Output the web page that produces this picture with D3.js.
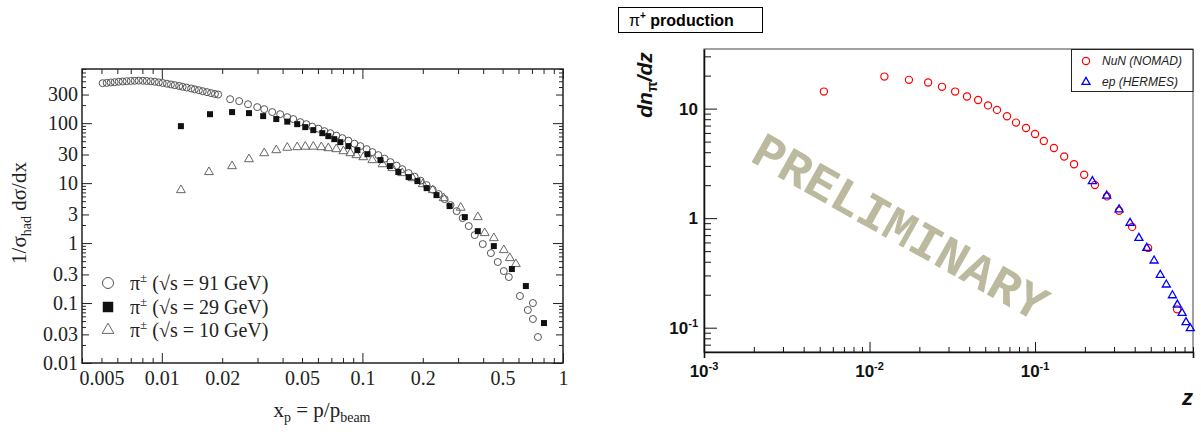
<!DOCTYPE html>
<html>
<head>
<meta charset="utf-8">
<script src="https://d3js.org/d3.v7.min.js"></script>
<style>
  body { margin: 0; background: #fff; }
  svg { display: block; }
</style>
</head>
<body>
<svg id="chart" width="1201" height="434"></svg>
<script>
'use strict';

// ---- left panel: e+e- -> pi+- fragmentation ----
var xpTicks = [0.005, 0.01, 0.02, 0.05, 0.1, 0.2, 0.5, 1];
var xpTickLabels = ['0.005', '0.01', '0.02', '0.05', '0.1', '0.2', '0.5', '1'];
var sigTicks = [300, 100, 30, 10, 3, 1, 0.3, 0.1, 0.03, 0.01];
var sigTickLabels = ['300', '100', '30', '10', '3', '1', '0.3', '0.1', '0.03', '0.01'];
var legendLabels = [' (\u221as = 91 GeV)', ' (\u221as = 29 GeV)', ' (\u221as = 10 GeV)'];

var lep91X = [0.00507, 0.00531, 0.00556, 0.00582, 0.0061, 0.00638, 0.00668, 0.007, 0.00733, 0.00767,
  0.00804, 0.00841, 0.00881, 0.00923, 0.00966, 0.0101, 0.0106, 0.0111, 0.0116, 0.0122,
  0.0127, 0.0133, 0.014, 0.0146, 0.0153, 0.016, 0.0168, 0.0176, 0.0184, 0.0191,
  0.0219, 0.0243, 0.0269, 0.0299, 0.0324, 0.0355, 0.0389, 0.0422, 0.0452,
  0.049, 0.0525, 0.0562, 0.0603, 0.0646, 0.0692, 0.0741, 0.0794, 0.0851, 0.0912,
  0.0977, 0.105, 0.112, 0.12, 0.129, 0.138, 0.148, 0.158, 0.17, 0.182,
  0.195, 0.209, 0.224, 0.24, 0.257, 0.275, 0.295, 0.316, 0.339, 0.363,
  0.398, 0.437, 0.473, 0.507, 0.537, 0.61, 0.668, 0.708, 0.708, 0.75];
var lep91Y = [464, 469, 477, 482, 490, 495, 501, 505, 509, 511,
  509, 505, 498, 490, 479, 468, 455, 442, 430, 417,
  404, 392, 379, 366, 354, 341, 329, 317, 307, 300,
  251, 233, 207, 185, 171, 153, 141, 126, 117,
  104, 96.2, 87.4, 81.0, 73.6, 68.1, 61.9, 56.2, 51.1, 45.5,
  41.4, 36.9, 32.9, 29.3, 25.6, 22.4, 19.6, 17.1, 14.7, 12.8,
  11.0, 9.26, 7.79, 6.56, 5.41, 4.30, 3.41, 2.61, 1.92, 1.36,
  0.962, 0.681, 0.483, 0.341, 0.271, 0.131, 0.0764, 0.1, 0.0541, 0.0271];

var pep29X = [0.01245, 0.01738, 0.0224, 0.0272, 0.032, 0.0372, 0.0422, 0.0473, 0.0519, 0.0569,
  0.0631, 0.0676, 0.0724, 0.0776, 0.0851, 0.0944, 0.106, 0.123, 0.137, 0.151,
  0.17, 0.188, 0.209, 0.234, 0.272, 0.324, 0.376, 0.452, 0.556, 0.653, 0.804];
var pep29Y = [89.1, 141, 153, 147, 131, 117, 106, 96.2, 85.8, 76.5,
  68.1, 60.7, 54.1, 48.2, 41.4, 35.5, 30.4, 24.2, 19.2, 15.3,
  12.6, 10.8, 8.25, 6.31, 4.14, 2.71, 1.58, 0.891, 0.369, 0.192, 0.0464];

var cleo10X = [0.01245, 0.01718, 0.0224, 0.0272, 0.0324, 0.0372, 0.0422, 0.0473, 0.0519, 0.0569,
  0.0624, 0.0676, 0.0741, 0.0804, 0.0871, 0.0933, 0.101, 0.112, 0.126, 0.141,
  0.158, 0.178, 0.2, 0.224, 0.254, 0.309, 0.376, 0.407, 0.452, 0.507, 0.543, 0.582];
var cleo10Y = [7.65, 15.3, 19.2, 25.1, 31.6, 35.5, 39.0, 39.8, 40.6, 40.6,
  39.8, 38.3, 36.9, 34.1, 31.6, 29.3, 27.1, 24.2, 20.7, 17.8,
  14.7, 12.1, 9.62, 7.65, 5.62, 3.90, 2.71, 1.47, 1.21, 0.764, 0.562, 0.447];

// ---- right panel: pi+ production vs z ----
var zTicks = [0.001, 0.01, 0.1];
var zTickExp = ['-3', '-2', '-1'];
var dnTicks = [10, 1, 0.1];
var dnTickBase = ['10', '1', '10'];
var dnTickExp = ['', '', '-1'];
var seriesNames = ['NuN (NOMAD)', 'ep (HERMES)'];

var nomadZ = [0.0053, 0.0123, 0.0173, 0.0226, 0.0274, 0.0329, 0.0388, 0.0453, 0.052, 0.0589,
  0.0677, 0.0767, 0.0882, 0.1, 0.113, 0.130, 0.150, 0.172, 0.198, 0.230,
  0.272, 0.322, 0.386, 0.482, 0.721];
var nomadY = [14.3, 19.6, 18.3, 17.3, 15.8, 14.3, 12.9, 12.0, 10.7, 9.73,
  8.51, 7.45, 6.66, 5.87, 5.07, 4.37, 3.65, 3.10, 2.49, 2.01,
  1.58, 1.17, 0.832, 0.535, 0.147];

var hermesZ = [0.222, 0.271, 0.322, 0.375, 0.424, 0.473, 0.524, 0.571, 0.621, 0.676, 0.724, 0.773, 0.817, 0.867];
var hermesY = [2.17, 1.60, 1.20, 0.904, 0.658, 0.534, 0.409, 0.303, 0.247, 0.197, 0.162, 0.136, 0.112, 0.0986];

var svg = d3.select('#chart');

function isDecade(v) {
  var l = Math.log10(v);
  return Math.abs(l - Math.round(l)) < 1e-6;
}
function leadDigit(v) {
  return Math.round(v / Math.pow(10, Math.floor(Math.log10(v) + 1e-9)));
}
function noDomain(g) { g.select('.domain').remove(); }

// =========== left panel ===========
var L = { left: 82, top: 69, right: 563, bottom: 363 };
var xL = d3.scaleLog().domain([0.004, 1]).range([L.left, L.right]);
var yL = d3.scaleLog().domain([0.01, 800]).range([L.bottom, L.top]);
var serif = '"Liberation Serif", "Times New Roman", serif';

var gl = svg.append('g').attr('color', '#222');

function xLen(d) { return isDecade(d) ? 10 : 5; }
function yLen(d) { return isDecade(d) ? 10 : (leadDigit(d) === 3 ? 7 : 4); }

gl.append('g').attr('transform', 'translate(0,' + L.bottom + ')')
  .call(d3.axisBottom(xL).tickValues(xL.ticks()).tickFormat(''))
  .call(noDomain)
  .selectAll('.tick line').attr('y2', function (d) { return -xLen(d); });
gl.append('g').attr('transform', 'translate(0,' + L.top + ')')
  .call(d3.axisTop(xL).tickValues(xL.ticks()).tickFormat(''))
  .call(noDomain)
  .selectAll('.tick line').attr('y2', function (d) { return xLen(d); });
gl.append('g').attr('transform', 'translate(' + L.left + ',0)')
  .call(d3.axisLeft(yL).tickValues(yL.ticks()).tickFormat(''))
  .call(noDomain)
  .selectAll('.tick line').attr('x2', function (d) { return yLen(d); });
gl.append('g').attr('transform', 'translate(' + L.right + ',0)')
  .call(d3.axisRight(yL).tickValues(yL.ticks()).tickFormat(''))
  .call(noDomain)
  .selectAll('.tick line').attr('x2', function (d) { return -yLen(d); });

gl.append('rect').attr('x', L.left).attr('y', L.top)
  .attr('width', L.right - L.left).attr('height', L.bottom - L.top)
  .attr('fill', 'none').attr('stroke', '#222').attr('stroke-width', 1.5);

// tick labels
gl.append('g').attr('transform', 'translate(0,' + L.bottom + ')')
  .call(d3.axisBottom(xL).tickValues(xpTicks).tickSize(0).tickPadding(8)
    .tickFormat(function (d, i) { return xpTickLabels[i]; }))
  .call(noDomain)
  .attr('font-family', serif).attr('font-size', 20);
gl.append('g').attr('transform', 'translate(' + L.left + ',0)')
  .call(d3.axisLeft(yL).tickValues(sigTicks).tickSize(0).tickPadding(4)
    .tickFormat(function (d, i) { return sigTickLabels[i]; }))
  .call(noDomain)
  .attr('font-family', serif).attr('font-size', 20);

// axis titles
var yt = gl.append('text').attr('transform', 'translate(26,213) rotate(-90)')
  .attr('text-anchor', 'middle').attr('font-family', serif).attr('font-size', 21).attr('fill', '#222');
yt.append('tspan').text('1/\u03c3');
yt.append('tspan').attr('font-size', 14).attr('dy', 5).text('had');
yt.append('tspan').attr('dy', -5).text(' d\u03c3/dx');

var xt = gl.append('text').attr('x', 322).attr('y', 417)
  .attr('text-anchor', 'middle').attr('font-family', serif).attr('font-size', 21).attr('fill', '#222');
xt.append('tspan').text('x');
xt.append('tspan').attr('font-size', 14).attr('dy', 5).text('p');
xt.append('tspan').attr('dy', -5).text(' = p/p');
xt.append('tspan').attr('font-size', 14).attr('dy', 5).text('beam');

// data marks
gl.append('g').selectAll('circle').data(d3.zip(lep91X, lep91Y)).join('circle')
  .attr('cx', function (d) { return xL(d[0]); })
  .attr('cy', function (d) { return yL(d[1]); })
  .attr('r', 3.5).attr('fill', 'none').attr('stroke', '#555').attr('stroke-width', 1);

gl.append('g').selectAll('path').data(d3.zip(cleo10X, cleo10Y)).join('path')
  .attr('d', d3.symbol(d3.symbolTriangle, 34))
  .attr('transform', function (d) { return 'translate(' + xL(d[0]) + ',' + yL(d[1]) + ')'; })
  .attr('fill', 'none').attr('stroke', '#666').attr('stroke-width', 1);

gl.append('g').selectAll('path').data(d3.zip(pep29X, pep29Y)).join('path')
  .attr('d', d3.symbol(d3.symbolSquare, 36))
  .attr('transform', function (d) { return 'translate(' + xL(d[0]) + ',' + yL(d[1]) + ')'; })
  .attr('fill', '#111');

// legend
var legY = [283, 307, 330];
gl.append('circle').attr('cx', 108).attr('cy', legY[0]).attr('r', 5.5)
  .attr('fill', 'none').attr('stroke', '#555');
gl.append('path').attr('d', d3.symbol(d3.symbolSquare, 110))
  .attr('transform', 'translate(108,' + legY[1] + ')').attr('fill', '#111');
gl.append('path').attr('d', d3.symbol(d3.symbolTriangle, 60))
  .attr('transform', 'translate(108,' + legY[2] + ')').attr('fill', 'none').attr('stroke', '#666');
var lt = gl.append('g').selectAll('text').data(legendLabels).join('text')
  .attr('x', 130).attr('y', function (d, i) { return legY[i] + 7; })
  .attr('font-family', serif).attr('font-size', 20).attr('fill', '#222');
lt.append('tspan').text('\u03c0');
lt.append('tspan').attr('font-size', 13).attr('dy', -8).text('\u00b1');
lt.append('tspan').attr('dy', 8).text(function (d) { return d; });

// =========== right panel ===========
var R = { left: 704, top: 49, right: 1193, bottom: 352 };
var xR = d3.scaleLog().domain([0.001, 0.9]).range([R.left, R.right]);
var yR = d3.scaleLog().domain([0.06, 35]).range([R.bottom, R.top]);
var sans = '"Liberation Sans", Arial, Helvetica, sans-serif';

var gr = svg.append('g').attr('color', '#111');

// title box
gr.append('rect').attr('x', 618.5).attr('y', 7.5).attr('width', 144).attr('height', 25)
  .attr('fill', '#fff').attr('stroke', '#000').attr('stroke-width', 1);
var tt = gr.append('text').attr('x', 629).attr('y', 26)
  .attr('font-family', sans).attr('font-weight', 'bold').attr('font-size', 16);
tt.append('tspan').attr('font-weight', 'normal').text('\u03c0');
tt.append('tspan').attr('font-size', 10).attr('dy', -7).text('+');
tt.append('tspan').attr('dy', 7).text(' production');

// watermark
gr.append('text')
  .attr('transform', 'translate(901,226) rotate(29.4)')
  .attr('text-anchor', 'middle').attr('dy', '0.35em')
  .attr('font-family', '"Liberation Mono", "Courier New", monospace')
  .attr('font-weight', 'bold').attr('font-size', 50)
  .attr('fill', '#bcba9e').text('PRELIMINARY');

// frame
gr.append('rect').attr('x', R.left).attr('y', R.top)
  .attr('width', R.right - R.left).attr('height', R.bottom - R.top)
  .attr('fill', 'none').attr('stroke', '#444').attr('stroke-width', 1);

gr.append('g').attr('transform', 'translate(0,' + R.bottom + ')')
  .call(d3.axisBottom(xR).tickValues(xR.ticks()).tickFormat(''))
  .call(function (g) { g.select('.domain').attr('stroke-width', 1.6); })
  .selectAll('.tick line').attr('y2', function (d) { return isDecade(d) ? -10 : -5; });
gr.append('g').attr('transform', 'translate(' + R.left + ',0)')
  .call(d3.axisLeft(yR).tickValues(yR.ticks()).tickFormat('').tickSizeOuter(0))
  .call(function (g) { g.select('.domain').attr('stroke-width', 1.6); })
  .selectAll('.tick line').attr('x2', function (d) { return isDecade(d) ? 13 : 7; });

// tick labels with exponents
var xlab = gr.append('g').selectAll('text').data(zTicks).join('text')
  .attr('x', function (d) { return xR(d); }).attr('y', 377)
  .attr('text-anchor', 'middle').attr('font-family', sans).attr('font-weight', 'bold')
  .attr('font-size', 17).attr('fill', '#111');
xlab.append('tspan').text('10');
xlab.append('tspan').attr('font-size', 11).attr('dy', -7).text(function (d, i) { return zTickExp[i]; });

var ylab = gr.append('g').selectAll('text').data(dnTicks).join('text')
  .attr('x', 698).attr('y', function (d) { return yR(d) + 6; })
  .attr('text-anchor', 'end').attr('font-family', sans).attr('font-weight', 'bold')
  .attr('font-size', 17).attr('fill', '#111');
ylab.append('tspan').text(function (d, i) { return dnTickBase[i]; });
ylab.append('tspan').attr('font-size', 11).attr('dy', -7).text(function (d, i) { return dnTickExp[i]; });

// axis titles
var ry = gr.append('text').attr('transform', 'translate(652,85) rotate(-90)')
  .attr('text-anchor', 'middle').attr('font-family', sans).attr('font-weight', 'bold')
  .attr('font-style', 'italic').attr('font-size', 21).attr('fill', '#111');
ry.append('tspan').text('dn');
ry.append('tspan').attr('font-size', 14).attr('dy', 5).attr('font-style', 'normal').text('\u03c0');
ry.append('tspan').attr('dy', -5).text('/dz');

gr.append('text').attr('x', 1193).attr('y', 405).attr('text-anchor', 'end')
  .attr('font-family', sans).attr('font-weight', 'bold').attr('font-style', 'italic')
  .attr('font-size', 22).attr('fill', '#111').text('z');

// data marks
gr.append('g').selectAll('circle').data(d3.zip(nomadZ, nomadY)).join('circle')
  .attr('cx', function (d) { return xR(d[0]); })
  .attr('cy', function (d) { return yR(d[1]); })
  .attr('r', 3.6).attr('fill', 'none').attr('stroke', '#ff0000').attr('stroke-width', 1.2);

gr.append('g').selectAll('path').data(d3.zip(hermesZ, hermesY)).join('path')
  .attr('d', d3.symbol(d3.symbolTriangle, 28))
  .attr('transform', function (d) { return 'translate(' + xR(d[0]) + ',' + yR(d[1]) + ')'; })
  .attr('fill', 'none').attr('stroke', '#0000ff').attr('stroke-width', 1.3);

// legend
gr.append('rect').attr('x', 1071.5).attr('y', 49.5).attr('width', 121.5).attr('height', 42)
  .attr('fill', '#fff').attr('stroke', '#222').attr('stroke-width', 1);
gr.append('circle').attr('cx', 1086).attr('cy', 61).attr('r', 3.6)
  .attr('fill', 'none').attr('stroke', '#ff0000').attr('stroke-width', 1.2);
gr.append('path').attr('d', d3.symbol(d3.symbolTriangle, 28))
  .attr('transform', 'translate(1086,82)')
  .attr('fill', 'none').attr('stroke', '#0000ff').attr('stroke-width', 1.3);
gr.append('g').selectAll('text').data(seriesNames).join('text')
  .attr('x', 1102).attr('y', function (d, i) { return [61, 82][i]; }).attr('dy', '0.35em')
  .attr('font-family', sans).attr('font-style', 'italic').attr('font-size', 12).attr('fill', '#222')
  .text(function (d) { return d; });
</script>
</body>
</html>
